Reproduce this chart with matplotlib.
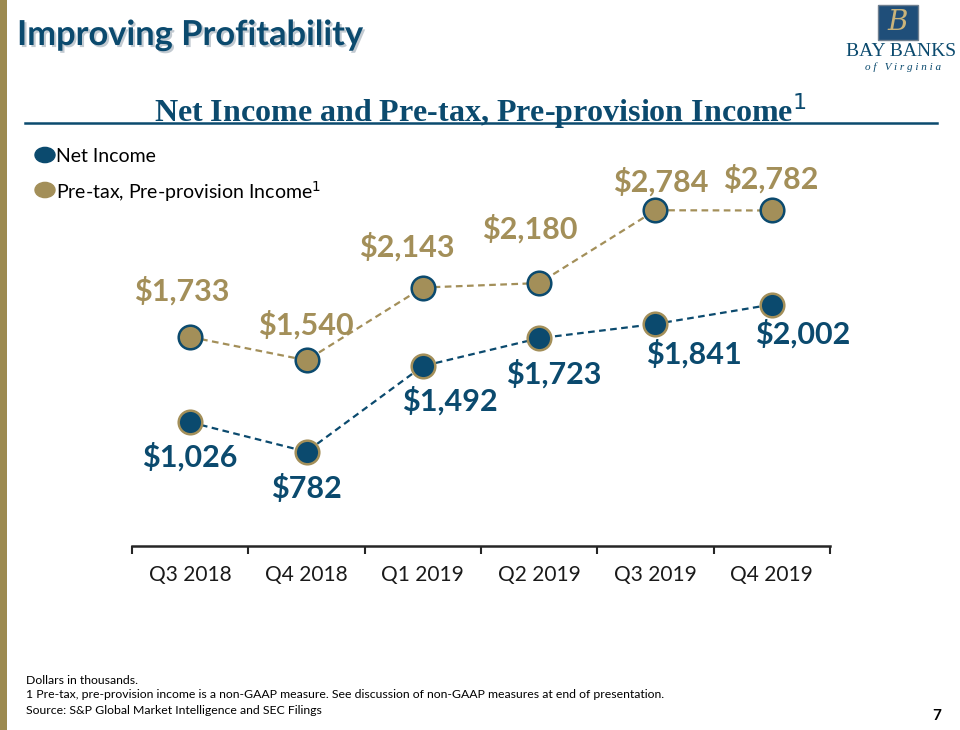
import matplotlib.pyplot as plt
from matplotlib.patches import Rectangle, Circle
from matplotlib.lines import Line2D
import matplotlib.patheffects as pe

# data (dollars in thousands)
quarters = ['Q3 2018', 'Q4 2018', 'Q1 2019', 'Q2 2019', 'Q3 2019', 'Q4 2019']
net_income = [1026, 782, 1492, 1723, 1841, 2002]
ptpp_income = [1733, 1540, 2143, 2180, 2784, 2782]

# label offsets in pixels (styling only)
net_offsets = [(0, -35), (0, -37), (27, -35), (15, -36), (38, -30), (31, -29)]
ptpp_offsets = [(-8, 46), (-1, 35), (-16, 41), (-9, 54), (5, 28), (-1, 32)]

navy = '#0b4a6e'
gold = '#a38f59'
font = 'Lato'

fig = plt.figure(figsize=(9.6, 7.3), dpi=100)
fig.patch.set_facecolor('white')

# left gold bar
fig.add_artist(Rectangle((0, 0), 7 / 960, 1, transform=fig.transFigure,
                         color='#9c8a50', lw=0))

# title
fig.text(17 / 960, 1 - 35 / 730, 'Improving Profitability', family=font,
         weight='bold', size=24.8, color=navy, va='center', ha='left',
         path_effects=[pe.withSimplePatchShadow(offset=(1.5, -1.5),
                                                shadow_rgbFace='#9aa7b3', alpha=0.6)])

# logo
fig.add_artist(Rectangle((878 / 960, 1 - 40 / 730), 40 / 960, 35 / 730,
                         transform=fig.transFigure, facecolor='#1f4e79',
                         edgecolor='#6f7f8f', lw=1))
fig.text(898 / 960, 1 - 23 / 730, 'B', family='DejaVu Serif', style='italic',
         size=20, color='#c9b37a', ha='center', va='center')
fig.text(901 / 960, 1 - 52 / 730, 'BAY BANKS', family='Liberation Serif',
         size=14, color=navy, ha='center', va='center')
fig.text(903 / 960, 1 - 67 / 730, 'o f   V i r g i n i a', family='Liberation Serif',
         style='italic', size=8, color=navy, ha='center', va='center')

# subtitle + underline
fig.text(480 / 960, 1 - 111 / 730, 'Net Income and Pre-tax, Pre-provision Income$^1$',
         family='Liberation Serif', weight='bold', size=23, color=navy,
         ha='center', va='center')
fig.add_artist(Line2D([25 / 960, 937 / 960], [1 - 123 / 730, 1 - 123 / 730],
                      transform=fig.transFigure, color=navy, lw=1.8))

# legend
for yy, col, lab in [(155, navy, 'Net Income'),
                     (190, gold, 'Pre-tax, Pre-provision Income$^1$')]:
    fig.add_artist(Circle((45 / 960, 1 - yy / 730), 10 / 960, transform=fig.transFigure,
                          color=col))
    fig.text(56 / 960, 1 - (yy + 2) / 730, lab, family=font, size=14,
             color='black', ha='left', va='center')

# chart
ax = fig.add_axes([132 / 960, 1 - 546 / 730, 698 / 960, 386 / 730])
x = list(range(len(quarters)))

ax.plot(x, ptpp_income, ls=(0, (3, 2)), lw=1.6, color=gold, zorder=2)
ax.plot(x, ptpp_income, ls='none', marker='o', ms=17, mfc=gold, mec=navy,
        mew=1.8, zorder=3)
ax.plot(x, net_income, ls=(0, (3, 2)), lw=1.6, color=navy, zorder=2)
ax.plot(x, net_income, ls='none', marker='o', ms=17, mfc=navy, mec=gold,
        mew=1.8, zorder=3)

for xi, v, off in zip(x, net_income, net_offsets):
    ax.annotate(f'${v:,}', (xi, v), xytext=off, textcoords='offset pixels',
                ha='center', va='center', family=font, weight='bold', size=22,
                color=navy, annotation_clip=False)
for xi, v, off in zip(x, ptpp_income, ptpp_offsets):
    ax.annotate(f'${v:,}', (xi, v), xytext=off, textcoords='offset pixels',
                ha='center', va='center', family=font, weight='bold', size=22,
                color=gold, annotation_clip=False)

ax.set_xlim(-0.5, len(quarters) - 0.5)
ax.set_ylim(0, 386 / 0.1206)
for s in ['top', 'left', 'right']:
    ax.spines[s].set_visible(False)
ax.spines['bottom'].set_color('#262626')
ax.spines['bottom'].set_linewidth(1.8)
ax.set_yticks([])
ax.set_xticks(x)
ax.set_xticklabels(quarters, family=font, size=15, color='#1a1a1a')
ax.set_xticks([i - 0.5 for i in range(len(quarters) + 1)], minor=True)
ax.tick_params(axis='x', which='major', length=0, pad=14)
ax.tick_params(axis='x', which='minor', length=6, width=1.5, color='#262626')

# footnotes
fig.text(26 / 960, 1 - 681 / 730, 'Dollars in thousands.', family=font, size=8.8,
         color='black', va='center')
fig.text(26 / 960, 1 - 695 / 730,
         '1 Pre-tax, pre-provision income is a non-GAAP measure. See discussion of non-GAAP measures at end of presentation.',
         family=font, size=8.8, color='black', va='center')
fig.text(26 / 960, 1 - 711 / 730, 'Source: S&P Global Market Intelligence and SEC Filings',
         family=font, size=8.8, color='black', va='center')
fig.text(937 / 960, 1 - 716 / 730, '7', family=font, weight='bold', size=11,
         color='black', ha='center', va='center')

plt.savefig('out.png', dpi=100)
